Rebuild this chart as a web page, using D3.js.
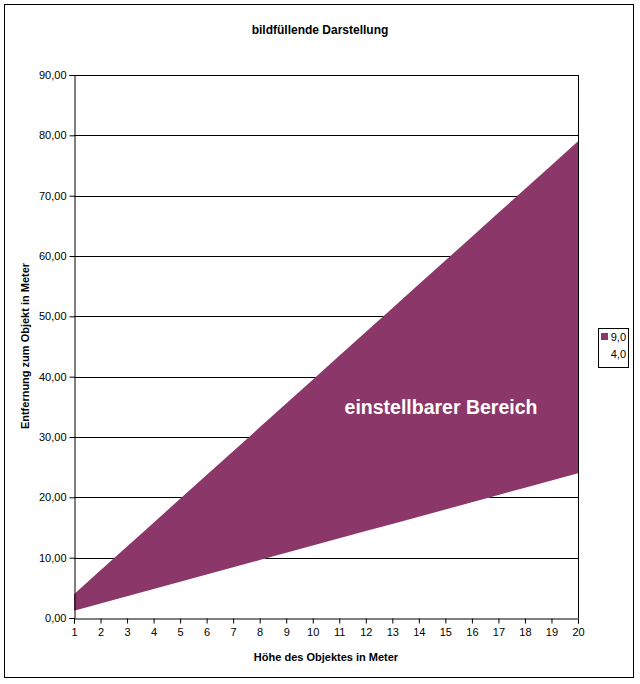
<!DOCTYPE html>
<html><head><meta charset="utf-8">
<script src="https://cdn.jsdelivr.net/npm/d3@7/dist/d3.min.js"></script>
<style>body{margin:0;background:#fff}svg{display:block;font-family:"Liberation Sans",Arial,sans-serif}</style>
</head><body><svg id="c" width="640" height="684"></svg>
<script>
const categories = [1,2,3,4,5,6,7,8,9,10,11,12,13,14,15,16,17,18,19,20];
const series9 = [3.95,7.9,11.85,15.8,19.75,23.7,27.65,31.6,35.55,39.5,43.45,47.4,51.35,55.3,59.25,63.2,67.15,71.1,75.05,79.0];
const series4 = [1.2,2.4,3.6,4.8,6.0,7.2,8.4,9.6,10.8,12.0,13.2,14.4,15.6,16.8,18.0,19.2,20.4,21.6,22.8,24.0];
const seriesNames = ["9,0","4,0"];
const yTicks = [0,10,20,30,40,50,60,70,80,90];
const titleText = "bildfüllende Darstellung";
const xTitle = "Höhe des Objektes in Meter";
const yTitle = "Entfernung zum Objekt in Meter";
const noteText = "einstellbarer Bereich";

const svg = d3.select("#c");
const L=74, R=578, T=75, B=618;
const x = d3.scalePoint().domain(categories).range([L,R]).padding(0);
const y = d3.scaleLinear().domain([0,90]).range([B,T]);
const purple = "#8C3769";

svg.append("rect").attr("x",4.5).attr("y",4.5).attr("width",629).attr("height",673)
  .attr("fill","#fff").attr("stroke","#000").attr("stroke-width",1);

// gridlines
svg.append("g").selectAll("line").data(yTicks.filter(d=>d>0)).join("line")
  .attr("x1",L).attr("x2",R).attr("y1",d=>Math.round(y(d))+0.5).attr("y2",d=>Math.round(y(d))+0.5)
  .attr("stroke","#000");

const area = vals => d3.area().x((d,i)=>x(categories[i])).y0(y(0)).y1(d=>y(d))(vals);
svg.append("path").attr("d",area(series9)).attr("fill",purple);
svg.append("path").attr("d",area(series4)).attr("fill","#fff");

// gridlines visible in the lower (white) series region
svg.append("clipPath").attr("id","lowclip").append("path").attr("d",area(series4));
svg.append("g").attr("clip-path","url(#lowclip)").selectAll("line").data(yTicks.filter(d=>d>0)).join("line")
  .attr("x1",L).attr("x2",R).attr("y1",d=>Math.round(y(d))+0.5).attr("y2",d=>Math.round(y(d))+0.5)
  .attr("stroke","#000");

// right border
svg.append("line").attr("x1",R+0.5).attr("x2",R+0.5).attr("y1",T).attr("y2",B).attr("stroke","#000");

// axes
const yAxis = d3.axisLeft(y).tickValues(yTicks).tickSize(5).tickPadding(3)
  .tickFormat(d=>d3.format(".2f")(d).replace(".",","));
const gy = svg.append("g").attr("transform",`translate(${L+0.5},0)`).call(yAxis);
gy.select(".domain").attr("stroke","#000");
gy.selectAll("text").attr("font-size",11).attr("fill","#000");

const xAxis = d3.axisBottom(x).tickSize(5).tickPadding(5);
const gx = svg.append("g").attr("transform",`translate(0,${B+0.5})`).call(xAxis);
gx.select(".domain").attr("stroke","#000");
gx.selectAll("text").attr("font-size",11).attr("fill","#000");

// titles
svg.append("text").attr("x",320).attr("y",34).attr("text-anchor","middle")
  .attr("font-size",12).attr("font-weight","bold").text(titleText);
svg.append("text").attr("x",326).attr("y",661).attr("text-anchor","middle")
  .attr("font-size",11).attr("font-weight","bold").text(xTitle);
svg.append("text").attr("transform","translate(29,346) rotate(-90)").attr("text-anchor","middle")
  .attr("font-size",11).attr("font-weight","bold").text(yTitle);

svg.append("text").attr("x",441).attr("y",414).attr("text-anchor","middle")
  .attr("font-size",19.5).attr("font-weight","bold").attr("fill","#fff").text(noteText);

// legend
const lg = svg.append("g");
lg.append("rect").attr("x",598.5).attr("y",328.5).attr("width",30).attr("height",39)
  .attr("fill","#fff").attr("stroke","#000");
const lcolors=[purple,"#fff"];
seriesNames.forEach((n,i)=>{
  lg.append("rect").attr("x",601).attr("y",333+i*17).attr("width",7).attr("height",7).attr("fill",lcolors[i]);
  lg.append("text").attr("x",626).attr("y",341+i*17).attr("text-anchor","end")
    .attr("font-size",11).text(n);
});
</script></body></html>
